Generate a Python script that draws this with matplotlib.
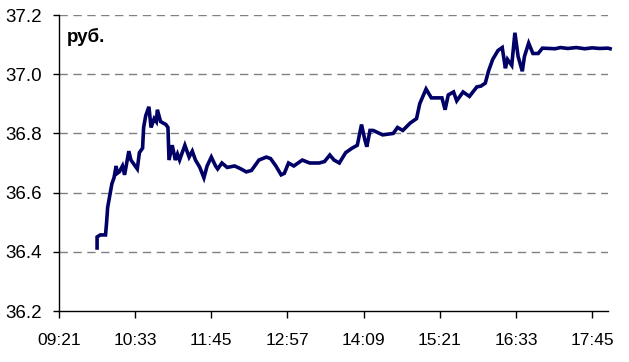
import matplotlib
matplotlib.use("Agg")
import matplotlib.pyplot as plt

# Intraday time points (HH:MM) and rate values (руб.)
times = ["09:57", "09:57", "10:00", "10:05", "10:06", "10:07", "10:08", "10:11", "10:13", "10:15",
         "10:16", "10:18", "10:21", "10:23", "10:25", "10:27", "10:29", "10:31", "10:33", "10:35",
         "10:37", "10:40", "10:41", "10:43", "10:46", "10:48", "10:51", "10:53", "10:54", "10:57",
         "11:02", "11:04", "11:05", "11:08", "11:11", "11:13", "11:15", "11:20", "11:24", "11:27",
         "11:30", "11:34", "11:38", "11:41", "11:45", "11:49", "11:51", "11:55", "12:00", "12:07",
         "12:13", "12:18", "12:23", "12:30", "12:37", "12:41", "12:46", "12:51", "12:54", "12:58",
         "13:03", "13:11", "13:18", "13:27", "13:32", "13:37", "13:41", "13:46", "13:52", "13:58",
         "14:03", "14:07", "14:10", "14:12", "14:15", "14:18", "14:27", "14:37", "14:41", "14:46",
         "14:53", "14:59", "15:02", "15:08", "15:13", "15:23", "15:26", "15:29", "15:34", "15:37",
         "15:43", "15:49", "15:56", "16:00", "16:04", "16:07", "16:11", "16:16", "16:20", "16:23",
         "16:25", "16:29", "16:32", "16:35", "16:39", "16:41", "16:45", "16:49", "16:54", "16:58",
         "17:10", "17:15", "17:22", "17:30", "17:38", "17:45", "17:52", "18:00", "18:02"]
values = [36.413, 36.45, 36.457, 36.457, 36.50, 36.55, 36.57, 36.63, 36.65, 36.69,
          36.665, 36.67, 36.69, 36.66, 36.70, 36.74, 36.71, 36.70, 36.69, 36.68,
          36.735, 36.75, 36.82, 36.86, 36.89, 36.82, 36.85, 36.84, 36.88, 36.84,
          36.83, 36.82, 36.71, 36.76, 36.71, 36.73, 36.71, 36.76, 36.72, 36.74,
          36.71, 36.686, 36.65, 36.69, 36.72, 36.69, 36.68, 36.70, 36.685, 36.69,
          36.68, 36.67, 36.675, 36.71, 36.72, 36.715, 36.69, 36.66, 36.665, 36.70,
          36.69, 36.71, 36.70, 36.70, 36.705, 36.727, 36.71, 36.70, 36.735, 36.75,
          36.76, 36.83, 36.78, 36.755, 36.81, 36.81, 36.795, 36.80, 36.82, 36.81,
          36.835, 36.85, 36.90, 36.95, 36.92, 36.92, 36.88, 36.93, 36.94, 36.91,
          36.94, 36.925, 36.957, 36.96, 36.97, 37.01, 37.05, 37.08, 37.09, 37.02,
          37.05, 37.03, 37.14, 37.06, 37.01, 37.06, 37.105, 37.07, 37.07, 37.088,
          37.086, 37.09, 37.087, 37.09, 37.086, 37.089, 37.087, 37.088, 37.086]
tick_labels = ["09:21", "10:33", "11:45", "12:57", "14:09", "15:21", "16:33", "17:45"]
y_ticks = [36.2, 36.4, 36.6, 36.8, 37.0, 37.2]
unit_label = "руб."


def to_min(t):
    h, m = t.split(":")
    return int(h) * 60 + int(m)


t0 = to_min(tick_labels[0])
x = [to_min(t) - t0 for t in times]
xt = [to_min(t) - t0 for t in tick_labels]

fig = plt.figure(figsize=(6.29, 3.62), dpi=100)
ax = fig.add_axes([59 / 629, 1 - 311 / 362, (608 - 59) / 629, (311 - 15) / 362])

for yv in y_ticks[1:]:
    ax.axhline(yv, color="#808080", lw=1.0, ls=(0, (6, 4)), zorder=1)

ax.plot(x, values, color="#000066", lw=2.6, zorder=3, clip_on=False, solid_joinstyle="miter")

ax.set_xlim(0, 519)
ax.set_ylim(36.2, 37.2)
ax.set_xticks(xt)
ax.set_xticklabels(tick_labels, family="Liberation Sans", fontsize=12.5)
ax.set_yticks(y_ticks)
ax.set_yticklabels([f"{v:.1f}" for v in y_ticks], family="Liberation Sans", fontsize=13.5)
ax.tick_params(axis="x", length=5, width=1, pad=11, color="black")
ax.tick_params(axis="y", length=4, width=1, pad=8, color="black")

for s in ["top", "right"]:
    ax.spines[s].set_visible(False)
for s in ["left", "bottom"]:
    ax.spines[s].set_color("black")
    ax.spines[s].set_linewidth(1)

ax.text(0.015, 0.955, unit_label, transform=ax.transAxes, ha="left", va="top",
        fontsize=13.5, fontweight="bold", family="Liberation Sans")

fig.savefig("out.png", dpi=100)
